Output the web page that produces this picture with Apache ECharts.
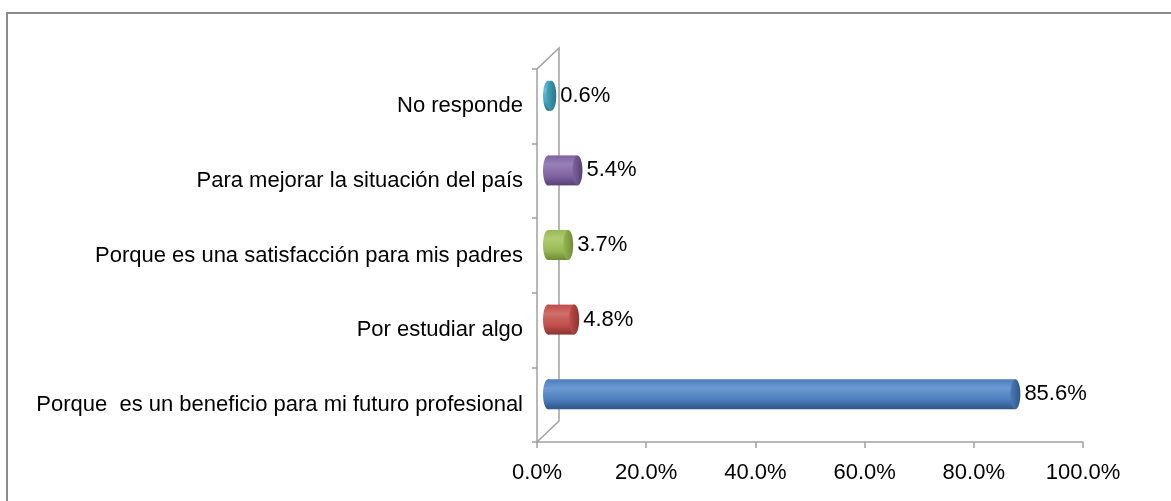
<!DOCTYPE html>
<html>
<head>
<meta charset="utf-8">
<script src="https://cdn.jsdelivr.net/npm/echarts@6/dist/echarts.min.js"></script>
<style>
  html, body { margin: 0; padding: 0; background: #fff; }
  #chart { width: 1171px; height: 501px; }
</style>
</head>
<body>
<div id="chart"></div>
<script>
// categories, bottom first (echarts draws category y from bottom up)
const categories = [
  'Porque  es un beneficio para mi futuro profesional',
  'Por estudiar algo',
  'Porque es una satisfacción para mis padres',
  'Para mejorar la situación del país',
  'No responde'
]
const values = [85.6, 4.8, 3.7, 5.4, 0.6]
const xTicks = [0, 20, 40, 60, 80, 100]

// office style palette: [light, mid, dark]
const COLORS = [
  ['#6e9ad3', '#4a7dbb', '#2f5586'],
  ['#d06e6b', '#bf4d4a', '#8a3432'],
  ['#b0cc72', '#98b954', '#6e8a36'],
  ['#9880b8', '#7f62a1', '#574372'],
  ['#6cbfd5', '#44a6c1', '#2b7388']
]

const GRID = { left: 537, top: 69, right: 88, bottom: 59 }
const DEPTH = { x: 22, y: 21 }
const AXIS_COLOR = '#a0a0a0'
const FONT = 'Liberation Sans, Arial, sans-serif'

const chart = echarts.init(document.getElementById('chart'), null, { renderer: 'canvas' })

const grad = (c) => new echarts.graphic.LinearGradient(0, 0, 0, 1, [
  { offset: 0, color: c[1] },
  { offset: 0.3, color: c[0] },
  { offset: 0.7, color: c[1] },
  { offset: 1, color: c[2] }
])

const capGrad = (c) => new echarts.graphic.LinearGradient(0, 0, 1, 0, [
  { offset: 0, color: c[1] },
  { offset: 1, color: c[2] }
])

const renderCylinder = (params, api) => {
  const idx = api.value(0)
  const val = api.value(1)
  const start = api.coord([0, idx])
  const end = api.coord([val, idx])
  const dx = DEPTH.x / 2, dy = -DEPTH.y / 2
  const h = 30, rx = 5
  const x0 = start[0] + dx
  const x1 = end[0] + dx
  const cy = start[1] + dy
  const c = COLORS[idx]
  return {
    type: 'group',
    children: [
      { type: 'ellipse', shape: { cx: x0, cy: cy, rx: rx, ry: h / 2 }, style: { fill: grad(c) } },
      { type: 'rect', shape: { x: x0, y: cy - h / 2, width: Math.max(x1 - x0, 0.5), height: h }, style: { fill: grad(c) } },
      { type: 'ellipse', shape: { cx: x1, cy: cy, rx: rx, ry: h / 2 }, style: { fill: capGrad(c) } },
      {
        type: 'text',
        style: {
          text: val.toFixed(1) + '%',
          x: x1 + rx + 4, y: cy,
          verticalAlign: 'middle', align: 'left',
          fill: '#000', font: '22px ' + FONT
        }
      }
    ]
  }
}

const W = 1171, H = 501
const x0 = GRID.left, yTop = GRID.top, yBot = H - GRID.bottom

const option = {
  backgroundColor: '#fff',
  animation: false,
  grid: { left: GRID.left, top: GRID.top, right: GRID.right, bottom: GRID.bottom, containLabel: false },
  xAxis: {
    type: 'value',
    min: 0, max: 100, interval: 20,
    axisLine: { show: true, lineStyle: { color: AXIS_COLOR, width: 1.5 } },
    axisTick: { show: true, length: 6, lineStyle: { color: AXIS_COLOR, width: 1.5 } },
    splitLine: { show: false },
    axisLabel: {
      margin: 20, color: '#000', fontSize: 22, fontFamily: FONT,
      formatter: (v) => v.toFixed(1) + '%'
    }
  },
  yAxis: {
    type: 'category',
    data: categories,
    axisLine: { show: true, lineStyle: { color: AXIS_COLOR, width: 1.5 } },
    axisTick: { show: true, length: 5, lineStyle: { color: AXIS_COLOR, width: 1.5 } },
    axisLabel: { margin: 14, color: '#000', fontSize: 22, fontFamily: FONT, interval: 0 }
  },
  series: [{
    type: 'custom',
    renderItem: renderCylinder,
    encode: { x: 1, y: 0 },
    data: values.map((v, i) => [i, v])
  }],
  graphic: [
    // outer frame (top + left only visible)
    { type: 'polyline', shape: { points: [[7, H + 5], [7, 13], [W + 5, 13]] }, style: { stroke: '#8c8c8c', lineWidth: 2, fill: null } },
    // 3D back wall
    { type: 'polyline', shape: { points: [[x0, yTop], [x0 + DEPTH.x, yTop - DEPTH.y], [x0 + DEPTH.x, yBot - DEPTH.y], [x0, yBot]] }, style: { stroke: AXIS_COLOR, lineWidth: 1.5, fill: null }, z: 1 }
  ]
}

chart.setOption(option)
</script>
</body>
</html>
